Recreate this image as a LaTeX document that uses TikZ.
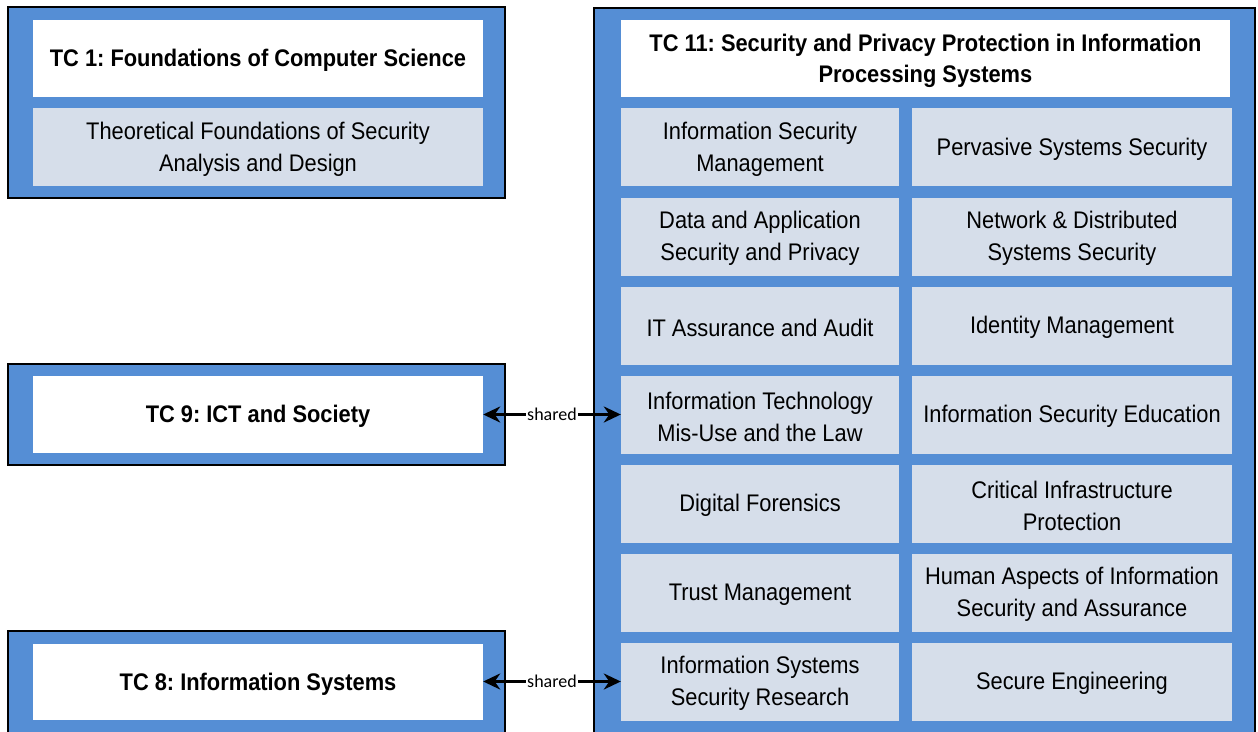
\documentclass[tikz,border=0pt]{standalone}
\usepackage{fontspec}
\setmainfont{Liberation Sans}[FakeStretch=0.91]
\newfontfamily\smallfont{Carlito}
\usetikzlibrary{arrows.meta}
\definecolor{boxblue}{HTML}{558ED5}
\definecolor{tilegray}{HTML}{D6DEEA}
\frenchspacing
\begin{document}
\begin{tikzpicture}[x=1pt,y=-1pt,
  outerbox/.style={fill=boxblue,draw=black,line width=2.2pt},
  titlebox/.style={fill=white,draw=none,inner sep=0pt},
  tilebox/.style={fill=tilegray,draw=none,inner sep=0pt},
  titletext/.style={inner sep=0pt,align=center,font=\fontsize{24}{31}\selectfont\bfseries},
  tiletext/.style={inner sep=0pt,align=center,font=\fontsize{24}{32}\selectfont},
  arr/.style={line width=3pt,{Stealth[length=17pt,width=16pt]}-{Stealth[length=17pt,width=16pt]}},
  sharedlbl/.style={fill=white,inner sep=1pt,font=\smallfont\fontsize{18}{19}\selectfont}
]
\useasboundingbox (0,0) rectangle (1258,731);
\begin{scope}
\clip (0,0) rectangle (1258,731);
% outer boxes
\draw[outerbox] (8,7) rectangle (505,198);
\draw[outerbox] (8,364) rectangle (505,465);
\draw[outerbox] (8,631) rectangle (505,760);
\draw[outerbox] (594,8) rectangle (1255,760);
\end{scope}
% TC1
\node[titlebox,minimum width=450pt,minimum height=77pt] (tc1) at (258,58.5) {};
\node[titletext] at ([yshift=-2pt]tc1.center) {TC 1: Foundations of Computer Science};
\node[tilebox,minimum width=450pt,minimum height=78pt] (tc1a) at (258,147) {};
\node[tiletext] at ([yshift=-2pt]tc1a.center) {Theoretical Foundations of Security\\Analysis and Design};
% TC9
\node[titlebox,minimum width=450pt,minimum height=77pt] (tc9) at (258,414.5) {};
\node[titletext] at ([yshift=-2pt]tc9.center) {TC 9: ICT and Society};
% TC8
\node[titlebox,minimum width=450pt,minimum height=76pt] (tc8) at (258,682) {};
\node[titletext] at ([yshift=-2pt]tc8.center) {TC 8: Information Systems};
% TC11
\node[titlebox,minimum width=609pt,minimum height=77pt] (tc11) at (925.5,58.5) {};
\node[titletext] at ([yshift=-2pt]tc11.center) {TC 11: Security and Privacy Protection in Information\\Processing Systems};
\foreach \r/\y/\a/\b in {
  1/147/{Information Security\\Management}/{Pervasive Systems Security},
  2/236.5/{Data and Application\\Security and Privacy}/{Network \& Distributed\\Systems Security},
  3/325.5/{IT Assurance and Audit}/{Identity Management},
  4/414.5/{Information Technology\\Mis-Use and the Law}/{Information Security Education},
  5/503.5/{Digital Forensics}/{Critical Infrastructure\\Protection},
  6/592.5/{Trust Management}/{Human Aspects of Information\\Security and Assurance},
  7/681.5/{Information Systems\\Security Research}/{Secure Engineering}} {
  \node[tilebox,minimum width=278pt,minimum height=78pt] (l\r) at (760,\y) {};
  \node[tiletext] at ([yshift=-2pt]l\r.center) {\a};
  \node[tilebox,minimum width=320pt,minimum height=78pt] (r\r) at (1072,\y) {};
  \node[tiletext] at ([yshift=-2pt]r\r.center) {\b};
}
% arrows
\draw[arr] (tc9.east) -- node[sharedlbl] {shared} (l4.west);
\draw[arr] (tc8.east |- l7.west) -- node[sharedlbl] {shared} (l7.west);
\end{tikzpicture}
\end{document}
